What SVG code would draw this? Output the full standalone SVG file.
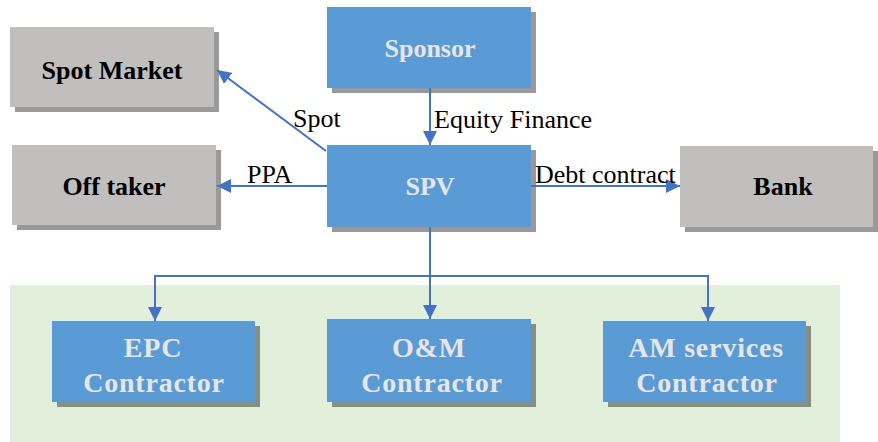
<svg xmlns="http://www.w3.org/2000/svg" width="878" height="442" viewBox="0 0 878 442">
<style>
.gray{fill:#C1BFBD}
.blue{fill:#5B9BD5}
.sh{fill:#000;fill-opacity:0.4}
.lab{font-weight:bold;font-size:26px;text-anchor:middle}
.lab2{font-weight:bold;font-size:28px;letter-spacing:0.8px;text-anchor:middle}
.dk{fill:#000}
.lt{fill:#E7E6E6}
.el{font-size:26px;fill:#000}
.c{stroke:#4472C4;stroke-width:2;fill:none}
</style>
<defs>
<marker id="a" viewBox="0 0 10 10" refX="10" refY="5" markerWidth="7" markerHeight="7" orient="auto">
<path d="M0,0 L10,5 L0,10 z" fill="#4472C4"/>
</marker>
</defs>
<rect x="10" y="285" width="830" height="157" fill="#E2EFDA"/>
<g id="spot-market">
<rect class="sh" x="15" y="32" width="204" height="80"/>
<rect class="gray" x="10" y="27" width="204" height="80"/>
<text class="lab dk" style="font-family:'Liberation Serif',serif" x="112" y="79">Spot Market</text>
</g>
<g id="off-taker">
<rect class="sh" x="17" y="150" width="204" height="80"/>
<rect class="gray" x="12" y="145" width="204" height="80"/>
<text class="lab dk" style="font-family:'Liberation Serif',serif" x="114" y="195">Off taker</text>
</g>
<g id="sponsor">
<rect class="sh" x="332" y="12" width="204" height="81"/>
<rect class="blue" x="327" y="7" width="204" height="81"/>
<text class="lab lt" style="font-family:'Liberation Serif',serif" x="430" y="57">Sponsor</text>
</g>
<g id="spv">
<rect class="sh" x="332" y="150" width="204" height="82"/>
<rect class="blue" x="327" y="145" width="204" height="82"/>
<text class="lab lt" style="font-family:'Liberation Serif',serif" x="430" y="195">SPV</text>
</g>
<g id="bank">
<rect class="sh" x="685" y="151" width="193" height="81"/>
<rect class="gray" x="680" y="146" width="193" height="81"/>
<text class="lab dk" style="font-family:'Liberation Serif',serif" x="783" y="195">Bank</text>
</g>
<g id="epc">
<rect class="sh" x="57" y="326" width="203" height="81"/>
<rect class="blue" x="52" y="321" width="203" height="81"/>
<text class="lab2 lt" style="font-family:'Liberation Serif',serif" x="153" y="357">EPC</text>
<text class="lab2 lt" style="font-family:'Liberation Serif',serif" x="154" y="392">Contractor</text>
</g>
<g id="om">
<rect class="sh" x="332" y="324" width="204" height="83"/>
<rect class="blue" x="327" y="319" width="204" height="83"/>
<text class="lab2 lt" style="font-family:'Liberation Serif',serif" x="429" y="357">O&amp;M</text>
<text class="lab2 lt" style="font-family:'Liberation Serif',serif" x="432" y="392">Contractor</text>
</g>
<g id="am">
<rect class="sh" x="608" y="326" width="203" height="81"/>
<rect class="blue" x="603" y="321" width="203" height="81"/>
<text class="lab2 lt" style="font-family:'Liberation Serif',serif" x="706" y="357">AM services</text>
<text class="lab2 lt" style="font-family:'Liberation Serif',serif" x="707" y="392">Contractor</text>
</g>
<g id="connectors">
<path class="c" d="M430,88 V145" marker-end="url(#a)"/>
<path class="c" d="M326,151 L217,70" marker-end="url(#a)"/>
<path class="c" d="M327,186 H217" marker-end="url(#a)"/>
<path class="c" d="M531,186 H680" marker-end="url(#a)"/>
<path class="c" d="M430,227 V319" marker-end="url(#a)"/>
<path class="c" d="M155,321 V276 H708 V321" marker-end="url(#a)"/>
<path class="c" d="M155,276 V321" marker-end="url(#a)"/>
</g>
<g id="edge-labels">
<text class="el" style="font-family:'Liberation Serif',serif" x="434" y="128">Equity Finance</text>
<text class="el" style="font-family:'Liberation Serif',serif" x="293" y="127">Spot</text>
<text class="el" style="font-family:'Liberation Serif',serif" x="247" y="183">PPA</text>
<text class="el" style="font-family:'Liberation Serif',serif" x="535" y="183">Debt contract</text>
</g>
</svg>
